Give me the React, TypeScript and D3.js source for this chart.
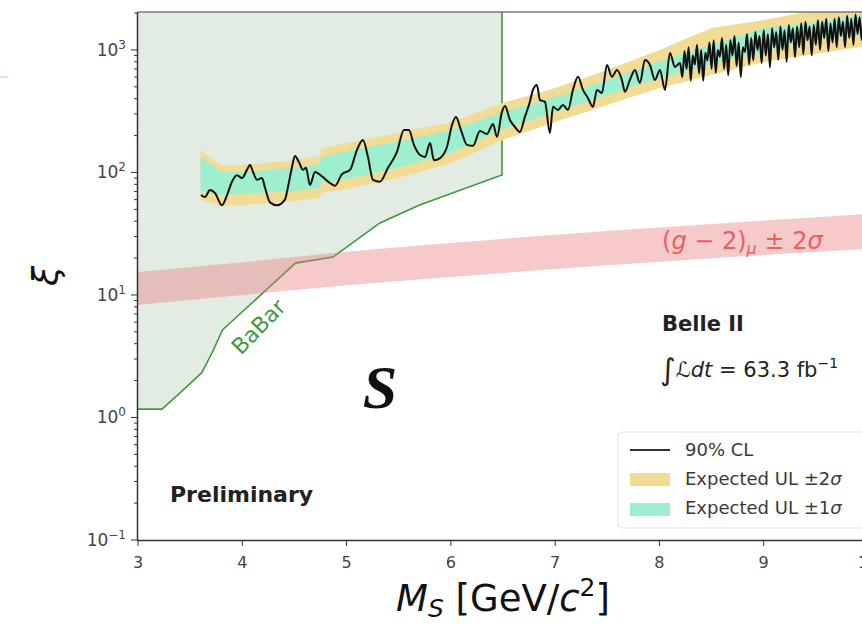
import React from 'react';
import * as d3 from 'd3';

// BaBar exclusion boundary
const babarMass = [3.0, 3.23, 3.40, 3.61, 3.71, 3.81, 4.51, 4.87, 5.32, 5.70, 6.49];
const babarXi = [1.17, 1.17, 1.58, 2.31, 3.37, 5.18, 18.2, 20.4, 38.7, 54.3, 95.5];

// (g-2)_mu +-2 sigma band
const g2Mass = [3, 4, 5, 6, 7, 8, 9, 10];
const g2Upper = [15.4, 18.5, 22.5, 26.5, 31, 35.5, 40.5, 46];
const g2Lower = [8.3, 10, 12, 14, 16.3, 18.7, 21.2, 23.8];

// expected upper limit bands
const expMass = [3.60, 3.80, 4.00, 4.50, 4.74, 4.76, 5.00, 5.50, 6.00, 6.50, 7.00, 7.50, 8.00, 8.50, 9.00, 9.50, 10.00];
const exp2Up = [153, 113, 115, 126, 136, 156, 174, 210, 258, 370, 490, 687, 1000, 1511, 1757, 2118, 2550];
const exp1Up = [134, 101, 101, 109, 117, 134, 150, 180, 222, 312, 413, 569, 812, 1098, 1511, 1690, 1967];
const exp1Dn = [70.7, 65.5, 66.7, 70.7, 74.6, 82.7, 88.6, 109, 144, 226, 312, 429, 591, 768, 962, 1255, 1326];
const exp2Dn = [59.6, 53.3, 54.3, 58.5, 62.0, 68, 73.4, 90.5, 119, 184, 258, 356, 490, 625, 797, 925, 1080];

// observed 90% CL upper limit
const obsMass = [
  3.604, 3.642, 3.690, 3.738, 3.805, 3.853, 3.901, 3.949, 3.997, 4.045,
  4.074, 4.103, 4.141, 4.189, 4.218, 4.266, 4.333, 4.409, 4.438, 4.477,
  4.505, 4.544, 4.582, 4.611, 4.649, 4.697, 4.764, 4.841, 4.889, 4.956,
  5.033, 5.100, 5.157, 5.205, 5.253, 5.320, 5.397, 5.483, 5.550, 5.598,
  5.646, 5.704, 5.752, 5.800, 5.838, 5.896, 5.963, 6.011, 6.049, 6.097,
  6.154, 6.212, 6.279, 6.346, 6.404, 6.442, 6.490, 6.519, 6.567, 6.615,
  6.662, 6.710, 6.758, 6.787, 6.825, 6.854, 6.902, 6.950, 6.979, 7.027,
  7.075, 7.123, 7.171, 7.219, 7.267, 7.314, 7.362, 7.401, 7.449, 7.497,
  7.545, 7.593, 7.640, 7.669, 7.717, 7.765, 7.813, 7.861, 7.909, 7.957,
  8.005, 8.053, 8.101, 8.149, 8.197,
  8.22, 8.24, 8.26, 8.28, 8.30, 8.32, 8.34, 8.36, 8.38, 8.40,
  8.42, 8.44, 8.46, 8.48, 8.50, 8.52, 8.54, 8.56, 8.58, 8.60,
  8.62, 8.64, 8.66, 8.68, 8.70, 8.72, 8.74, 8.76, 8.78, 8.80,
  8.82, 8.84, 8.86, 8.88, 8.90, 8.92, 8.94, 8.96, 8.98, 9.00,
  9.02, 9.04, 9.06, 9.08, 9.10, 9.12, 9.14, 9.16, 9.18, 9.20,
  9.22, 9.24, 9.26, 9.28, 9.30, 9.32, 9.34, 9.36, 9.38, 9.40,
  9.42, 9.44, 9.46, 9.48, 9.50, 9.52, 9.54, 9.56, 9.58, 9.60,
  9.62, 9.64, 9.66, 9.68, 9.70, 9.72, 9.74, 9.76, 9.78, 9.80,
  9.82, 9.84, 9.86, 9.88, 9.90, 9.92, 9.94, 9.96, 9.98, 10.00,
];
const obsXi = [
  65.5, 63, 72, 68, 54, 65, 84, 95, 90, 105,
  115, 101, 87, 90, 75, 57, 54, 60, 76, 111,
  136, 121, 105, 109, 79, 101, 93, 82, 78, 97,
  105, 153, 184, 134, 87, 84, 109, 147, 222, 222,
  168, 139, 134, 174, 126, 131, 162, 244, 283, 222,
  168, 165, 218, 206, 249, 195, 312, 349, 268, 235,
  214, 284, 377, 472, 518, 391, 377, 210, 343, 324,
  356, 324, 472, 603, 472, 406, 343, 472, 446, 754,
  603, 687, 569, 455, 569, 687, 538, 828, 754, 569,
  687, 472, 945, 726, 783,
  600, 980, 700, 1050, 560, 900, 760, 1100, 640, 1000,
  560, 950, 820, 1150, 700, 1200, 650, 1000, 880, 1250,
  700, 1100, 620, 1200, 900, 1300, 740, 1150, 600, 1050,
  960, 1350, 760, 1250, 820, 1400, 1000, 1300, 780, 1450,
  900, 1350, 720, 1500, 1050, 1400, 830, 1550, 1000, 1450,
  800, 1600, 1150, 1500, 870, 1550, 1050, 1650, 920, 1700,
  1200, 1550, 900, 1600, 1100, 1750, 1000, 1700, 1250, 1800,
  980, 1650, 1150, 1800, 1050, 1850, 1300, 1700, 1050, 1900,
  1250, 1800, 1100, 1950, 1350, 1850, 1200, 1900, 1300, 1800,
];

const xTicks = [3, 4, 5, 6, 7, 8, 9, 10];
const yMajor = [0.1, 1, 10, 100, 1000];
const yExp = ['\u22121', '0', '1', '2', '3'];

const YELLOW = '#f2dc95';
const GREEN = '#9eefcf';
const BABAR = '#3e9a3e';

export default function App() {
  const x = d3.scaleLinear().domain([3, 10]).range([138, 868]);
  const y = d3.scaleLog().domain([0.1, 2040]).range([540, 12]);
  const yTopVal = 2040;

  const babarPts: [number, number][] = babarMass.map((m, i) => [m, babarXi[i]]);
  const line = d3.line<[number, number]>().x(d => x(d[0])).y(d => y(d[1]));
  const babarFill = line([[3, yTopVal], ...babarPts, [6.49, yTopVal]]) + 'Z';
  const babarEdge = line([...babarPts, [6.49, yTopVal]]);

  const g2Area = d3.area<number>()
    .x((_, i) => x(g2Mass[i]))
    .y0((_, i) => y(g2Lower[i]))
    .y1((_, i) => y(g2Upper[i]))
    .curve(d3.curveMonotoneX)(g2Mass);

  const band = (lo: number[], hi: number[]) => d3.area<number>()
    .x((_, i) => x(expMass[i]))
    .y0((_, i) => y(lo[i]))
    .y1((_, i) => y(hi[i]))(expMass);

  const obsLine = d3.line<number>()
    .x((_, i) => x(obsMass[i]))
    .y((_, i) => y(obsXi[i]))
    .curve(d3.curveMonotoneX)(obsXi);

  const minor: number[] = [];
  yMajor.forEach(d => {
    for (let k = 2; k <= 9; k++) if (k * d <= yTopVal) minor.push(k * d);
  });

  const tickCol = '#444';

  return (
    <svg width={862} height={624} style={{ position: 'absolute', left: 0, top: 0, background: '#fff' }}
      fontFamily="DejaVu Sans">
      <defs>
        <clipPath id="plot">
          <rect x={138} y={12} width={730} height={528} />
        </clipPath>
      </defs>
      <line x1={0} x2={8} y1={77} y2={77} stroke="#f6a9c8" strokeWidth={1} />

      <g clipPath="url(#plot)">
        <path d={babarFill} fill="#e3ece3" />
        <path d={babarEdge!} fill="none" stroke={BABAR} strokeWidth={1.6} />
        <path d={g2Area!} fill="#e8787a" fillOpacity={0.4} />
        <path d={band(exp2Dn, exp2Up)!} fill={YELLOW} />
        <path d={band(exp1Dn, exp1Up)!} fill={GREEN} />
        <path d={obsLine!} fill="none" stroke="#111" strokeWidth={2} strokeLinejoin="round" />
      </g>

      {/* annotations */}
      <text transform="translate(264,332) rotate(-46)" textAnchor="middle" fontSize={22} fill={BABAR}>BaBar</text>
      <text x={380} y={408} textAnchor="middle" fontFamily="Liberation Serif" fontWeight="bold"
        fontStyle="italic" fontSize={62} fill="#111">S</text>
      <text x={170} y={502} fontWeight="bold" fontSize={22} fill="#222">Preliminary</text>
      <text x={662} y={331} fontWeight="bold" fontSize={21} fill="#222">Belle II</text>
      <text x={660} y={377} fontSize={21} fill="#222">
        <tspan fontSize={30} dy={3}>∫</tspan>
        <tspan fontStyle="italic" dy={-3}>ℒdt</tspan>
        <tspan> = 63.3 fb</tspan>
        <tspan fontSize={14} dy={-9}>−1</tspan>
      </text>
      <text x={662} y={249} fontSize={24} fill="#e8605a">
        <tspan>(</tspan><tspan fontStyle="italic">g</tspan><tspan> − 2)</tspan>
        <tspan fontStyle="italic" fontSize={16} dy={5}>μ</tspan>
        <tspan dy={-5}> ± 2</tspan><tspan fontStyle="italic">σ</tspan>
      </text>

      {/* legend */}
      <g>
        <rect x={618} y={432} width={270} height={96} rx={4} fill="#fff" fillOpacity={0.85} stroke="#e2e2e2" />
        <line x1={630} x2={670} y1={450} y2={450} stroke="#333" strokeWidth={1.8} />
        <rect x={630} y={473} width={40} height={13} fill={YELLOW} />
        <rect x={630} y={503} width={40} height={13} fill={GREEN} />
        <text x={685} y={456} fontSize={18} fill="#3a3a3a">90% CL</text>
        <text x={685} y={485} fontSize={18} fill="#3a3a3a">Expected UL ±2<tspan fontStyle="italic">σ</tspan></text>
        <text x={685} y={514} fontSize={18} fill="#3a3a3a">Expected UL ±1<tspan fontStyle="italic">σ</tspan></text>
      </g>

      {/* axes */}
      <line x1={138} x2={870} y1={12} y2={12} stroke="#777" strokeWidth={1.5} />
      <line x1={137.5} x2={137.5} y1={12} y2={540} stroke="#333" strokeWidth={1.5} />
      <line x1={137} x2={870} y1={540.5} y2={540.5} stroke="#333" strokeWidth={1.5} />
      {xTicks.map(t => (
        <g key={t}>
          <line x1={x(t)} x2={x(t)} y1={540} y2={546} stroke="#333" />
          <text x={x(t)} y={568} textAnchor="middle" fontSize={16} fill={tickCol}>{t}</text>
        </g>
      ))}
      {minor.map(v => (
        <line key={'m' + v} x1={134} x2={137} y1={y(v)} y2={y(v)} stroke="#333" />
      ))}
      {yMajor.map((v, i) => (
        <g key={'M' + v}>
          <line x1={131} x2={137} y1={y(v)} y2={y(v)} stroke="#333" />
          <text x={126} y={y(v) + 6} textAnchor="end" fontSize={17} fill={tickCol}>
            10<tspan fontSize={12} dy={-7}>{yExp[i]}</tspan>
          </text>
        </g>
      ))}
      <text transform="translate(58,276) rotate(-90)" textAnchor="middle" fontSize={36} fontStyle="italic" fill="#111">ξ</text>
      <text x={503} y={611} textAnchor="middle" fontSize={37} fill="#111">
        <tspan fontStyle="italic">M</tspan>
        <tspan fontStyle="italic" fontSize={25} dy={6}>S</tspan>
        <tspan dy={-6}> [GeV/</tspan>
        <tspan fontStyle="italic">c</tspan>
        <tspan fontSize={25} dy={-15}>2</tspan>
        <tspan dy={15}>]</tspan>
      </text>
    </svg>
  );
}
